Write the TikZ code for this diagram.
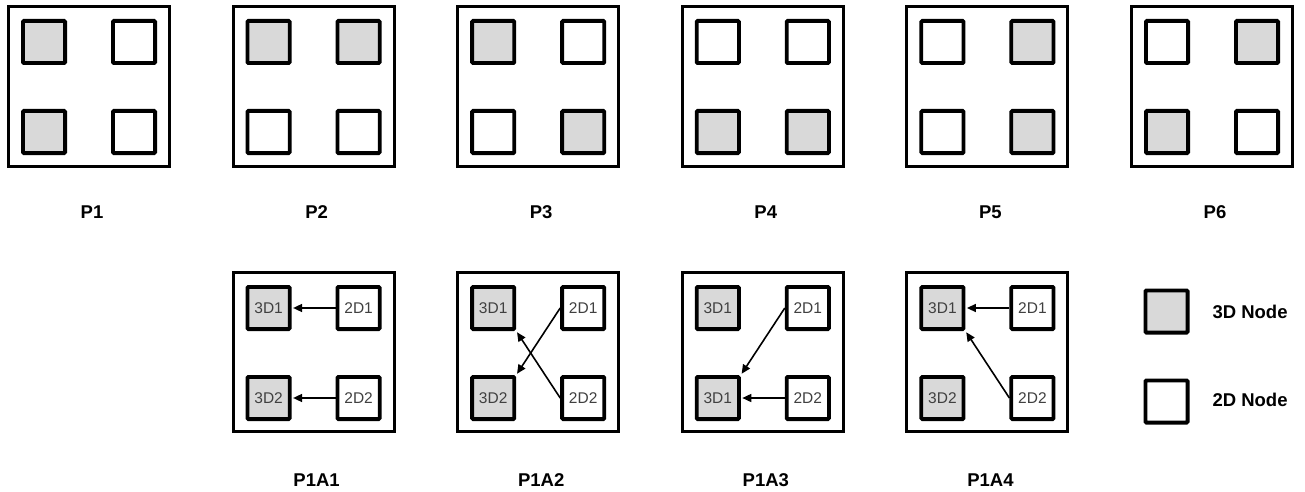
\documentclass[tikz,border=0pt]{standalone}
\usepackage{fontspec}
\setmainfont{Liberation Sans}
\usepackage{tikz}
\usetikzlibrary{arrows.meta}

\definecolor{nodegray}{HTML}{D9D9D9}
\definecolor{textgray}{HTML}{404040}

\tikzset{
  board/.style={rectangle,draw,line width=3pt,minimum width=161pt,minimum height=159.5pt,inner sep=0pt},
  sq/.style={rectangle,draw,line width=3.8pt,rounded corners=1pt,minimum size=42.2pt,inner sep=0pt,
    font=\fontsize{15.5}{17}\selectfont,text=textgray},
  three/.style={sq,fill=nodegray},
  two/.style={sq,fill=white},
  lbl/.style={font=\bfseries\fontsize{18.5}{20}\selectfont},
  link/.style={-{Triangle[length=9pt,width=8pt]},line width=1.6pt,shorten >=1.5pt}
}

\begin{document}
\begin{tikzpicture}[x=1pt,y=-1pt]
\useasboundingbox (0,0) rectangle (1305,492);

% Top row: placements P1..P6
\foreach \i/\a/\b/\c/\d in {1/three/two/three/two, 2/three/three/two/two, 3/three/two/two/three,
                            4/two/two/three/three, 5/two/three/two/three, 6/two/three/three/two} {
  \pgfmathsetmacro{\bx}{7+224.6*(\i-1)}
  \node[board] (p\i) at (\bx+82,86.5) {};
  \node[\a] (p\i tl) at (\bx+37,42) {};
  \node[\b] (p\i tr) at (\bx+127,42) {};
  \node[\c] (p\i bl) at (\bx+37,132) {};
  \node[\d] (p\i br) at (\bx+127,132) {};
  \node[lbl] (p\i lab) at (\bx+85,212) {P\i};
}

% P1A1
\node[board] (a1) at (313.6,352) {};
\node[three] (a1g1) at (268.6,308) {3D1};
\node[two] (a1w1) at (358.6,308) {2D1};
\node[three] (a1g2) at (268.6,398) {3D2};
\node[two] (a1w2) at (358.6,398) {2D2};
\node[lbl] (a1lab) at (316.6,480) {P1A1};
\draw[link] (a1w1.west) -- (a1g1.east);
\draw[link] (a1w2.west) -- (a1g2.east);

% P1A2
\node[board] (a2) at (538.2,352) {};
\node[three] (a2g1) at (493.2,308) {3D1};
\node[two] (a2w1) at (583.2,308) {2D1};
\node[three] (a2g2) at (493.2,398) {3D2};
\node[two] (a2w2) at (583.2,398) {2D2};
\node[lbl] (a2lab) at (541.2,480) {P1A2};
\draw[link] (a2w1.west) -- (a2g2.north east);
\draw[link] (a2w2.west) -- (a2g1.south east);

% P1A3
\node[board] (a3) at (762.8,352) {};
\node[three] (a3g1) at (717.8,308) {3D1};
\node[two] (a3w1) at (807.8,308) {2D1};
\node[three] (a3g2) at (717.8,398) {3D1};
\node[two] (a3w2) at (807.8,398) {2D2};
\node[lbl] (a3lab) at (765.8,480) {P1A3};
\draw[link] (a3w1.west) -- (a3g2.north east);
\draw[link] (a3w2.west) -- (a3g2.east);

% P1A4
\node[board] (a4) at (987.4,352) {};
\node[three] (a4g1) at (942.4,308) {3D1};
\node[two] (a4w1) at (1032.4,308) {2D1};
\node[three] (a4g2) at (942.4,398) {3D2};
\node[two] (a4w2) at (1032.4,398) {2D2};
\node[lbl] (a4lab) at (990.4,480) {P1A4};
\draw[link] (a4w1.west) -- (a4g1.east);
\draw[link] (a4w2.west) -- (a4g1.south east);

% Legend
\node[three] (key3) at (1166.5,311.5) {};
\node[lbl,anchor=west] (key3lab) at (1209,312) {3D Node};
\node[two] (key2) at (1166.5,401.5) {};
\node[lbl,anchor=west] (key2lab) at (1209,400) {2D Node};
\end{tikzpicture}
\end{document}
